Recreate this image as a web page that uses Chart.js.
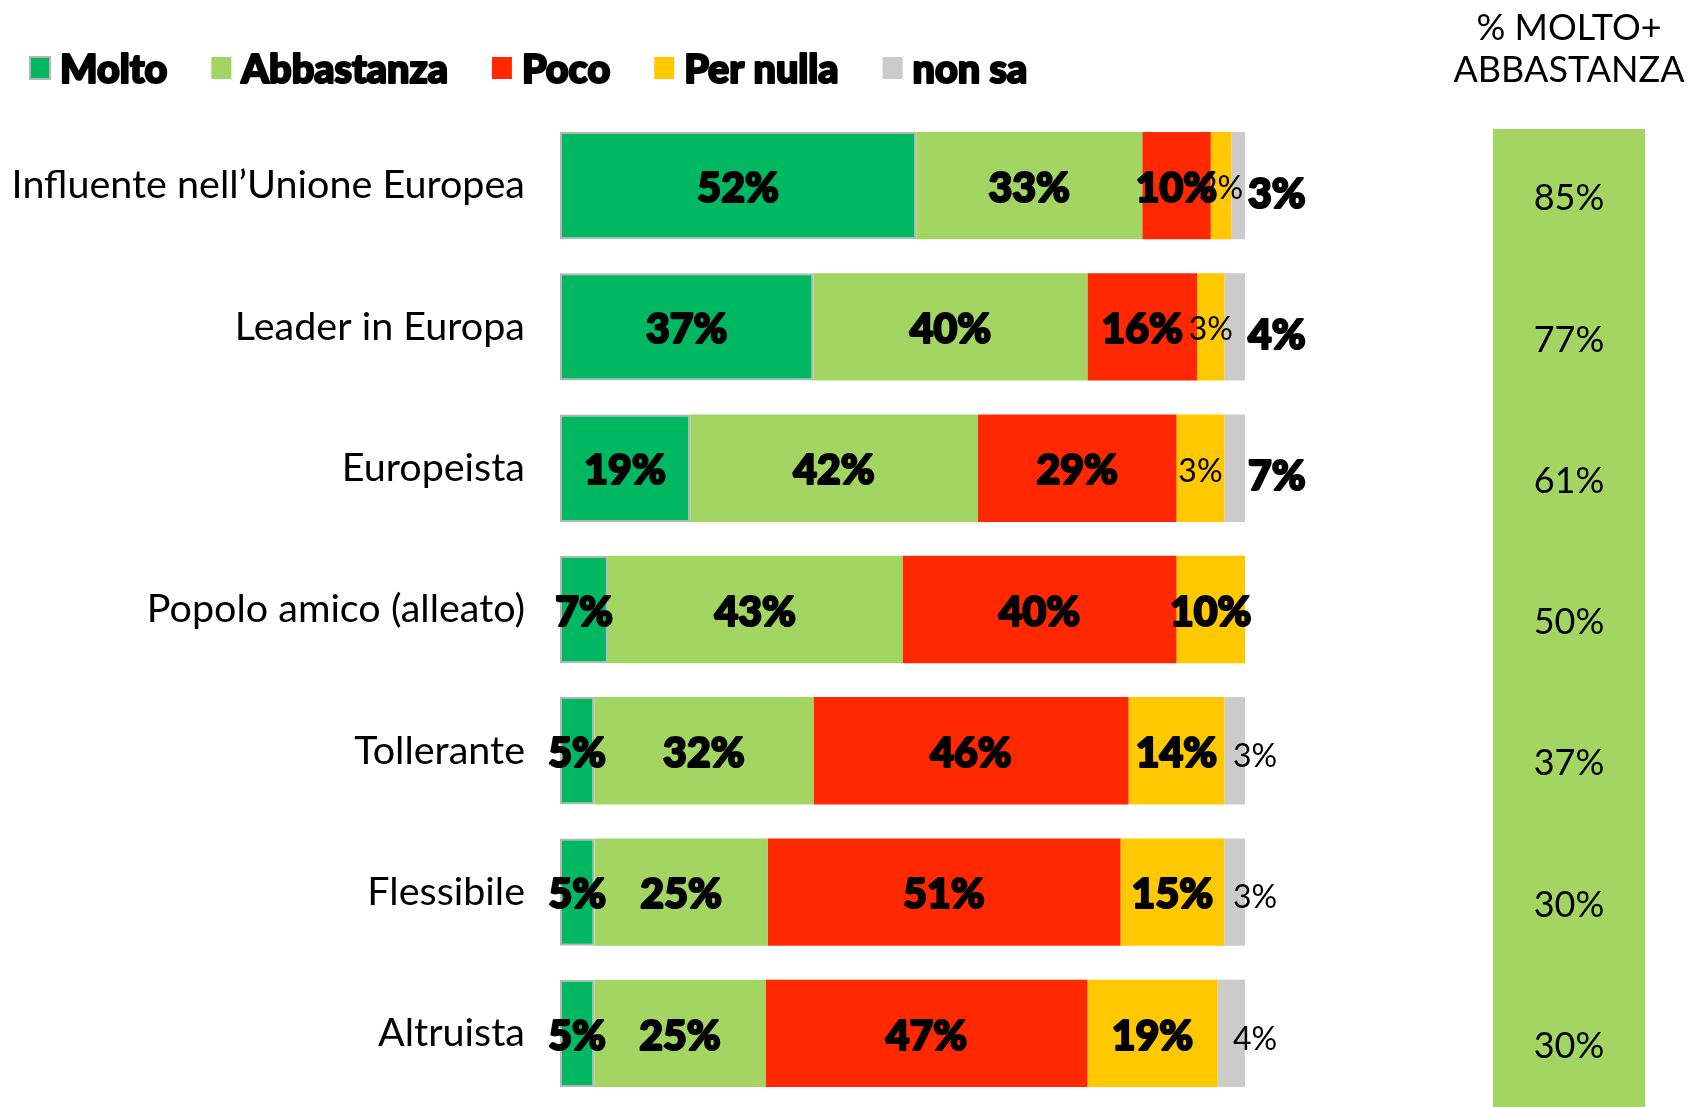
<!DOCTYPE html>
<html>
<head>
<meta charset="utf-8">
<script src="https://cdn.jsdelivr.net/npm/chart.js@4.4.1/dist/chart.umd.min.js"></script>
<style>
  html, body { margin: 0; padding: 0; background: #fff; }
  #wrap { width: 1689px; height: 1107px; }
</style>
</head>
<body>
<div id="wrap"><canvas id="grafico" width="1689" height="1107"></canvas></div>
<script>
const categorie = [
  "Influente nell\u2019Unione Europea",
  "Leader in Europa",
  "Europeista",
  "Popolo amico (alleato)",
  "Tollerante",
  "Flessibile",
  "Altruista"
];
// lunghezze dei segmenti, come appaiono nel grafico
const molto      = [52, 37, 19, 7, 5, 5, 5];
const abbastanza = [33, 40, 42, 43, 32, 25, 25];
const poco       = [10, 16, 29, 40, 46, 51, 47];
const perNulla   = [3, 4, 7, 10, 14, 15, 19];
const nonSa      = [2, 3, 3, 0, 3, 3, 4];
// etichette stampate (nelle prime tre righe quelle di "per nulla" e "non sa" sono invertite)
const etichettaPerNulla = [2, 3, 3, 10, 14, 15, 19];
const etichettaNonSa    = [3, 4, 7, 0, 3, 3, 4];
const moltoPiuAbbastanza = [85, 77, 61, 50, 37, 30, 30];
const titoloColonna = ["% MOLTO+", "ABBASTANZA"];

const FONT = "Lato";
const VERDE_CHIARO = "#a2d562";

// ogni barra è portata a 100 (le percentuali arrotondate non sempre sommano a 100)
const totaliRiga = categorie.map((_, i) => molto[i] + abbastanza[i] + poco[i] + perNulla[i] + nonSa[i]);
const normalizza = arr => arr.map((v, i) => v / totaliRiga[i] * 100);

function testoPesante(ctx, testo, x, y) {
  ctx.lineWidth = 2.2;
  ctx.lineJoin = "round";
  ctx.strokeStyle = "#000";
  ctx.strokeText(testo, x, y);
  ctx.fillText(testo, x, y);
}

// etichette dei valori dentro / accanto alle barre
const etichette = {
  id: "etichette",
  afterDatasetsDraw(chart) {
    const ctx = chart.ctx;
    ctx.save();
    ctx.fillStyle = "#000";
    ctx.textBaseline = "middle";
    chart.data.datasets.forEach((ds, d) => {
      const meta = chart.getDatasetMeta(d);
      meta.data.forEach((bar, i) => {
        const v = ds.valori[i];
        if (!v) return;
        const testo = v + "%";
        let bold = true;
        if (d === 3 && i < 3) bold = false;
        if (d === 4 && i >= 3) bold = false;
        ctx.font = (bold ? "900 41px " : "400 32px ") + FONT;
        let x, y = bar.y + 3;
        if (d === 4) {
          ctx.textAlign = "left";
          x = bold ? bar.x + 3 : bar.x - 12;
          y = bar.y + (bold ? 9 : 6);
        } else {
          ctx.textAlign = "center";
          x = (bar.x + bar.base) / 2;
        }
        if (bold) testoPesante(ctx, testo, x, y);
        else ctx.fillText(testo, x, y);
      });
    });
    ctx.restore();
  }
};

// colonna a destra con il totale molto + abbastanza
const colonnaTotale = {
  id: "colonnaTotale",
  afterDraw(chart) {
    const ctx = chart.ctx;
    const y = chart.scales.y;
    const cx = 1569;
    ctx.save();
    ctx.fillStyle = VERDE_CHIARO;
    ctx.fillRect(1493, 129, 152, chart.height - 129);
    ctx.fillStyle = "#000";
    ctx.textAlign = "center";
    ctx.textBaseline = "middle";
    ctx.font = "400 36px " + FONT;
    ctx.fillText(titoloColonna[0], cx, 28);
    ctx.fillText(titoloColonna[1], cx, 70);
    moltoPiuAbbastanza.forEach((v, i) => {
      ctx.fillText(v + "%", cx, y.getPixelForValue(i) + 13);
    });
    ctx.restore();
  }
};

// legenda in alto a sinistra
const legenda = {
  id: "legenda",
  afterDraw(chart) {
    const ctx = chart.ctx;
    ctx.save();
    ctx.font = "900 39.5px " + FONT;
    ctx.textBaseline = "middle";
    ctx.textAlign = "left";
    let x = 30;
    const yc = 70;
    chart.data.datasets.forEach(ds => {
      ctx.fillStyle = ds.backgroundColor;
      ctx.fillRect(x, yc - 13, 20, 22);
      if (ds.borderWidth) {
        ctx.strokeStyle = ds.borderColor;
        ctx.lineWidth = 2;
        ctx.strokeRect(x, yc - 13, 20, 22);
      }
      ctx.fillStyle = "#000";
      testoPesante(ctx, ds.label, x + 30, yc);
      x += 30 + ctx.measureText(ds.label).width + 44;
    });
    ctx.restore();
  }
};

const ctx = document.getElementById("grafico").getContext("2d");
new Chart(ctx, {
  type: "bar",
  data: {
    labels: categorie,
    datasets: [
      { label: "Molto", data: normalizza(molto), valori: molto, backgroundColor: "#00b862", borderColor: "#b5b5b5", borderWidth: 2, borderSkipped: false },
      { label: "Abbastanza", data: normalizza(abbastanza), valori: abbastanza, backgroundColor: VERDE_CHIARO, borderWidth: 0 },
      { label: "Poco", data: normalizza(poco), valori: poco, backgroundColor: "#ff2800", borderWidth: 0 },
      { label: "Per nulla", data: normalizza(perNulla), valori: etichettaPerNulla, backgroundColor: "#ffc800", borderWidth: 0 },
      { label: "non sa", data: normalizza(nonSa), valori: etichettaNonSa, backgroundColor: "#cbcbcb", borderWidth: 0 }
    ]
  },
  options: {
    indexAxis: "y",
    responsive: false,
    animation: false,
    devicePixelRatio: 1,
    barPercentage: 0.76,
    categoryPercentage: 1,
    layout: { padding: { top: 115, right: 444, bottom: 3, left: 0 } },
    plugins: {
      legend: { display: false },
      tooltip: { enabled: false }
    },
    scales: {
      x: { stacked: true, min: 0, max: 100, display: false },
      y: {
        stacked: true,
        grid: { display: false, drawTicks: false },
        border: { display: false },
        ticks: { color: "#000", font: { family: FONT, size: 39.5 }, padding: 35 },
        afterFit(scale) {
          scale.width = 560;
          scale.paddingTop = 0;
          scale.paddingBottom = 0;
        }
      }
    }
  },
  plugins: [etichette, colonnaTotale, legenda]
});
</script>
</body>
</html>
